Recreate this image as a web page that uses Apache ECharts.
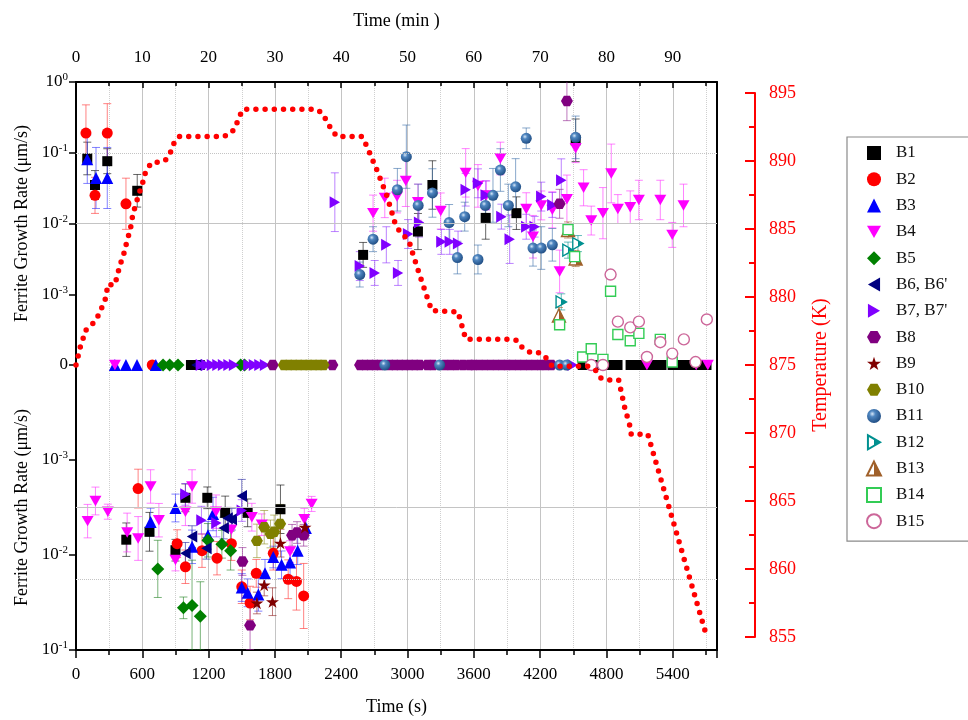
<!DOCTYPE html>
<html>
<head>
<meta charset="utf-8">
<script src="https://cdn.jsdelivr.net/npm/echarts@6/dist/echarts.min.js"></script>
<style>
  html, body { margin: 0; padding: 0; background: #fff; }
  #chart { width: 968px; height: 720px; }
</style>
</head>
<body>
<div id="chart"></div>
<script>
// ---- data -------------------------------------------------------------
// Time axis extent (s)
const TIME_MAX_S = 5800;
// Temperature tick labels (K)
const TEMP_TICKS = [855, 860, 865, 870, 875, 880, 885, 890, 895];
// Furnace temperature profile: [time (s), temperature (K)]
const TEMP_PROFILE = [
  [0, 875], [18, 875.6], [36, 876.25], [63, 876.9], [81, 877.5], [136, 877.9], [181, 878.3],
  [217, 878.9], [253, 879.6], [277, 880.1], [283, 880.9], [353, 880.9], [373, 881.6],
  [416, 882.8], [446, 883.5], [461, 884.2], [488, 884.8], [515, 886.1], [570, 887.6],
  [597, 888.2], [633, 889.3], [687, 889.9], [769, 889.9], [814, 890.1], [859, 890.7],
  [886, 891.3], [931, 891.8], [1338, 891.8], [1410, 892.1], [1447, 892.6], [1474, 893.2],
  [1510, 893.8], [2170, 893.8], [2233, 893.5], [2269, 892.9], [2306, 892.4], [2360, 891.8],
  [2586, 891.8], [2631, 891.1], [2724, 889.3], [2815, 887.4], [2884, 885.5], [2923, 884.9],
  [3014, 884.1], [3035, 883.5], [3110, 881.6], [3189, 879.7], [3219, 879.0], [3456, 878.9],
  [3502, 877.6], [3526, 876.9], [3930, 876.9], [3990, 876.8], [4045, 876.2], [4120, 875.9],
  [4195, 875.9], [4256, 875.5], [4310, 874.9], [4641, 874.9], [4702, 874.6], [4753, 874.0],
  [4828, 873.9], [4910, 873.9], [4964, 871.9], [5009, 870.6], [5024, 869.9], [5174, 869.9],
  [5199, 869.2], [5708, 855.0]
];

// Ferrite growth rate per boundary: [time (s), rate (um/s), error factor]
// rate > 0: growth, rate < 0: shrinkage, rate = 0: no movement
const B1 = [
  [102, 0.083, 1.7], [172, 0.035, 1.6], [283, 0.076, 1.5], [554, 0.029, 1.7],
  [2598, 0.0036, 1.5], [3094, 0.0077, 1.8], [3225, 0.035, 2.2], [3707, 0.012, 2.0],
  [3985, 0.014, 1.7], [4521, 0.15, 2.0],
  [455, -0.0069, 1.5], [665, -0.0057, 1.6], [900, -0.0089, 1.3], [990, -0.0025, 1.4],
  [1188, -0.0025, 1.3], [1350, -0.0036, 1.5], [1553, -0.0036, 1.4], [1850, -0.0033, 1.8],
  [1040, 0], [1085, 0], [1120, 0], [4585, 0], [4670, 0], [4755, 0], [4820, 0], [4900, 0],
  [5018, 0], [5100, 0], [5180, 0], [5260, 0], [5298, 0], [5398, 0], [5480, 0], [5560, 0],
  [5640, 0], [5705, 0]
];
const B2 = [
  [90, 0.19, 2.5], [283, 0.19, 2.6], [172, 0.025, 1.8], [452, 0.019, 2.3],
  [562, -0.002, 1.6], [915, -0.0076, 1.4], [990, -0.0133, 1.5], [1140, -0.009, 1.5],
  [1276, -0.0108, 1.5], [1406, -0.0076, 1.5], [1500, -0.0216, 1.5], [1575, -0.032, 1.5],
  [1631, -0.0156, 1.4], [1785, -0.0096, 1.5], [1920, -0.018, 1.6], [1995, -0.019, 2.0],
  [2060, -0.027, 2.2],
  [690, 0]
];
const B3 = [
  [102, 0.081, 2.2], [181, 0.044, 2.7], [283, 0.044, 2.7],
  [675, -0.0045, 1.4], [900, -0.0032, 1.4], [1050, -0.0082, 1.5], [1194, -0.0062, 1.4],
  [1240, -0.0037, 1.5], [1500, -0.022, 1.4], [1553, -0.025, 1.4], [1650, -0.026, 1.5],
  [1710, -0.0156, 1.4], [1785, -0.0105, 1.3], [1860, -0.0127, 1.4], [1937, -0.012, 1.4],
  [2006, -0.009, 1.4], [2080, -0.0052, 1.3],
  [352, 0], [452, 0], [552, 0], [722, 0]
];
const B4 = [
  [2688, 0.014, 1.8], [2794, 0.023, 1.9], [2905, 0.024, 1.7], [2984, 0.040, 2.3],
  [3094, 0.020, 1.8], [3300, 0.015, 1.8], [3526, 0.052, 2.2], [3637, 0.034, 2.0],
  [3713, 0.025, 1.6], [3840, 0.083, 1.7], [4074, 0.016, 1.7], [4135, 0.0065, 2.0],
  [4210, 0.018, 1.6], [4310, 0.0156, 1.8], [4376, 0.0021, 2.0], [4442, 0.022, 2.2],
  [4521, 0.116, 1.6], [4593, 0.032, 1.8], [4662, 0.011, 1.6], [4768, 0.014, 2.3],
  [4843, 0.051, 2.6], [4903, 0.016, 1.6], [5015, 0.017, 1.7], [5093, 0.0215, 1.9],
  [5287, 0.0215, 1.9], [5395, 0.0069, 1.5], [5497, 0.018, 2.0],
  [105, -0.0044, 1.5], [176, -0.0027, 1.4], [288, -0.0035, 1.2], [463, -0.0058, 1.6],
  [562, -0.0067, 1.7], [675, -0.0019, 1.5], [750, -0.0043, 1.5], [900, -0.0113, 1.3],
  [990, -0.0035, 1.4], [1050, -0.0019, 1.5], [1267, -0.0035, 1.5], [1406, -0.0054, 1.3],
  [1591, -0.004, 1.4], [1681, -0.0048, 1.3], [1937, -0.0092, 1.3], [2066, -0.0042, 1.3],
  [2132, -0.0029, 1.2],
  [352, 0], [5166, 0], [5612, 0], [5717, 0]
];
const B5 = [
  [740, -0.014, 2.0], [972, -0.036, 1.3], [1050, -0.034, 3.0], [1125, -0.044, 2.3],
  [1194, -0.007, 1.5], [1320, -0.0077, 1.4], [1399, -0.009, 1.6],
  [788, 0], [848, 0], [923, 0], [1490, 0], [1525, 0]
];
const B6 = [
  [990, -0.0096, 1.3], [1050, -0.0064, 1.3], [1180, -0.0085, 1.3], [1336, -0.0052, 1.3],
  [1372, -0.0041, 1.3], [1410, -0.0042, 1.3], [1500, -0.0024, 1.5],
  [1090, 0]
];
const B7 = [
  [2342, 0.020, 2.6], [2568, 0.0025, 1.6], [2703, 0.002, 1.5], [2808, 0.005, 1.8],
  [2914, 0.002, 1.5], [3005, 0.0071, 1.6], [3104, 0.0103, 1.6], [3306, 0.0055, 1.5],
  [3382, 0.0055, 1.5], [3457, 0.0052, 1.5], [3526, 0.030, 1.7], [3637, 0.037, 1.6],
  [3707, 0.025, 1.6], [3849, 0.0125, 1.5], [3924, 0.006, 2.2], [4074, 0.009, 1.5],
  [4150, 0.009, 1.4], [4210, 0.024, 1.6], [4310, 0.0183, 1.5], [4391, 0.041, 2.0],
  [990, -0.0023, 1.3], [1135, -0.0043, 1.4], [1270, -0.0046, 1.4], [1500, -0.0034, 1.3],
  [1130, 0], [1180, 0], [1230, 0], [1280, 0], [1330, 0], [1380, 0], [1430, 0], [1560, 0],
  [1610, 0], [1660, 0], [1710, 0], [4494, 0]
];
const B8 = [
  [4376, 0.019, 1.6], [4442, 0.54, 1.9],
  [1506, -0.0117, 1.4], [1575, -0.055, 1.8], [1955, -0.0062, 1.3], [2000, -0.0058, 1.3],
  [2060, -0.0062, 1.3],
  [1780, 0], [2320, 0], [2570, 0], [2615, 0], [2660, 0], [2705, 0], [2750, 0], [2840, 0],
  [2885, 0], [2930, 0], [2975, 0], [3020, 0], [3065, 0], [3110, 0], [3180, 0], [3230, 0],
  [3340, 0], [3390, 0], [3440, 0], [3500, 0], [3560, 0], [3600, 0], [3650, 0], [3700, 0],
  [3750, 0], [3800, 0], [3850, 0], [3900, 0], [3950, 0], [4000, 0], [4050, 0], [4100, 0],
  [4150, 0], [4200, 0], [4250, 0], [4300, 0]
];
const B9 = [
  [1637, -0.032, 1.3], [1703, -0.0207, 1.3], [1778, -0.031, 1.4], [1850, -0.0075, 1.4],
  [2072, -0.0051, 1.3]
];
const B10 = [
  [1637, -0.0071, 1.5], [1703, -0.0051, 1.5], [1760, -0.006, 1.4], [1793, -0.0057, 1.5],
  [1847, -0.0047, 1.6],
  [1880, 0], [1925, 0], [1970, 0], [2015, 0], [2060, 0], [2105, 0], [2150, 0], [2195, 0],
  [2240, 0]
];
const B11 = [
  [2568, 0.0019, 1.5], [2688, 0.006, 1.5], [2908, 0.030, 2.0], [2989, 0.088, 2.8],
  [3096, 0.018, 2.0], [3225, 0.027, 2.2], [3376, 0.0103, 1.8], [3451, 0.0033, 1.7],
  [3517, 0.0125, 1.6], [3637, 0.0031, 1.6], [3704, 0.018, 1.6], [3773, 0.025, 2.4],
  [3840, 0.057, 2.0], [3912, 0.018, 2.0], [3978, 0.033, 2.5], [4074, 0.16, 1.4],
  [4135, 0.0045, 1.8], [4210, 0.0045, 2.0], [4310, 0.005, 1.7], [4521, 0.165, 2.0],
  [2794, 0], [3290, 0], [4376, 0], [4439, 0]
];
const B12 = [[4391, 0.00078, 1.3], [4452, 0.0042, 1.3], [4542, 0.0052, 1.3]];
const B13 = [[4370, 0.0005, 1.3], [4452, 0.0081, 1.3], [4521, 0.0032, 1.3]];
const B14 = [
  [4376, 0.00037, 1.1], [4452, 0.0082, 1.1], [4512, 0.0034, 1.1], [4584, 0.00013, 1.05],
  [4662, 0.00017, 1.05], [4768, 0.00012, 1.05], [4837, 0.0011, 1.1], [4903, 0.00027, 1.1],
  [5015, 0.00022, 1.1], [5093, 0.00028, 1.1], [5287, 0.00023, 1.1], [5395, 0.00011, 1.05]
];
const B15 = [
  [4837, 0.0019, 1.1], [4903, 0.00041, 1.1], [5015, 0.00034, 1.1], [5093, 0.00041, 1.1],
  [5166, 0.00013, 1.05], [5287, 0.00021, 1.1], [5395, 0.000145, 1.05], [5500, 0.00023, 1.1],
  [5606, 0.00011, 1.05], [5708, 0.00044, 1.1],
  [4662, 0], [4768, 0]
];

const BOUNDARIES = [
  ['B1', B1], ['B2', B2], ['B3', B3], ['B4', B4], ['B5', B5], ['B6, B6\'', B6],
  ['B7, B7\'', B7], ['B8', B8], ['B9', B9], ['B10', B10], ['B11', B11], ['B12', B12],
  ['B13', B13], ['B14', B14], ['B15', B15]
];

// ---- styles ------------------------------------------------------------
const FONT = 'Liberation Serif';
const ZERO_LEVEL = 1e-4;   // the log axes bottom out here; drawn as "0"

function halfFill(color) {
  return {
    type: 'linear', x: 0, y: 0, x2: 1, y2: 0,
    colorStops: [
      { offset: 0, color: '#ffffff' }, { offset: 0.5, color: '#ffffff' },
      { offset: 0.5, color: color }, { offset: 1, color: color }
    ]
  };
}
const SPHERE = {
  type: 'radial', x: 0.38, y: 0.35, r: 0.7,
  colorStops: [
    { offset: 0, color: '#d8e8f8' }, { offset: 0.3, color: '#4f86c0' },
    { offset: 1, color: '#1d4a80' }
  ]
};
const P_DOWN = 'path://M0,0L12,0L6,10.4Z';
const P_LEFT = 'path://M10.4,0L10.4,12L0,6Z';
const P_RIGHT = 'path://M0,0L0,12L10.4,6Z';
const P_HEX = 'path://M3,0L9,0L12,5.2L9,10.4L3,10.4L0,5.2Z';
const P_STAR = 'path://M50,0L61.8,36.2L100,36.2L69.1,58.8L80.9,95.1L50,72.4L19.1,95.1L30.9,58.8L0,36.2L38.2,36.2Z';

const STYLE = {
  'B1': { symbol: 'rect', size: 10, color: '#000000', bar: '#000000' },
  'B2': { symbol: 'circle', size: 11, color: '#ff0000', bar: '#ff3030' },
  'B3': { symbol: 'triangle', size: 12, color: '#0000ff', bar: '#3030ff' },
  'B4': { symbol: P_DOWN, size: 12, color: '#ff00ff', bar: '#ff30ff' },
  'B5': { symbol: 'diamond', size: 13, color: '#008000', bar: '#208020' },
  'B6, B6\'': { symbol: P_LEFT, size: 12, color: '#000080', bar: '#2020a0' },
  'B7, B7\'': { symbol: P_RIGHT, size: 12, color: '#8000ff', bar: '#9030ff' },
  'B8': { symbol: P_HEX, size: 12, color: '#800080', bar: '#902090' },
  'B9': { symbol: P_STAR, size: 13, color: '#800000', bar: '#902020' },
  'B10': { symbol: P_HEX, size: 12, color: '#808000', bar: '#909020' },
  'B11': { symbol: 'circle', size: 11, color: SPHERE, bar: '#3a6ea8' },
  'B12': { symbol: P_RIGHT, size: 12, color: halfFill('#009090'), border: '#009090', bar: '#009090' },
  'B13': { symbol: 'triangle', size: 13, color: halfFill('#a0602a'), border: '#a0602a', bar: '#a0602a' },
  'B14': { symbol: 'rect', size: 10, color: '#ffffff', border: '#33cc55', bar: '#33cc55' },
  'B15': { symbol: 'circle', size: 11, color: '#ffffff', border: '#cc6699', bar: '#cc6699' }
};

// ---- series construction ------------------------------------------------
function errorBarSeries(name, points, xIdx, yIdx, color) {
  return {
    type: 'custom', name: name + ' err', xAxisIndex: xIdx, yAxisIndex: yIdx,
    clip: true, z: 2, silent: true,
    data: points,
    renderItem: function (params, api) {
      const x = api.value(0);
      const a = api.coord([x, api.value(2)]);
      const b = api.coord([x, api.value(1)]);
      const w = 4;
      const st = { stroke: color, lineWidth: 1, opacity: 0.6 };
      return {
        type: 'group', children: [
          { type: 'line', shape: { x1: a[0], y1: a[1], x2: b[0], y2: b[1] }, style: st },
          { type: 'line', shape: { x1: a[0] - w, y1: a[1], x2: a[0] + w, y2: a[1] }, style: st },
          { type: 'line', shape: { x1: b[0] - w, y1: b[1], x2: b[0] + w, y2: b[1] }, style: st }
        ]
      };
    }
  };
}

function markerSeries(name, pts, xIdx, yIdx, st) {
  return {
    type: 'scatter', name: name, xAxisIndex: xIdx, yAxisIndex: yIdx,
    data: pts, symbol: st.symbol, symbolSize: st.size, symbolKeepAspect: true,
    clip: false, z: 3,
    itemStyle: {
      color: st.color, opacity: 1,
      borderColor: st.border || 'rgba(0,0,0,0)', borderWidth: st.border ? 1.4 : 0
    },
    emphasis: { disabled: true }
  };
}

const series = [];
BOUNDARIES.forEach(function (entry) {
  const name = entry[0], rows = entry[1], st = STYLE[name];
  const up = [], down = [], upErr = [], downErr = [];
  rows.forEach(function (r) {
    const t = r[0], v = r[1], f = r[2];
    if (v > 0) {
      up.push([t, v]);
      upErr.push([t, Math.max(v / f, ZERO_LEVEL), v * f]);
    } else if (v < 0) {
      const m = -v;
      down.push([t, m]);
      downErr.push([t, Math.max(m / f, ZERO_LEVEL), Math.min(m * f, 0.1)]);
    } else {
      up.push([t, ZERO_LEVEL]);
    }
  });
  if (upErr.length) series.push(errorBarSeries(name, upErr, 0, 0, st.bar));
  if (downErr.length) series.push(errorBarSeries(name, downErr, 2, 1, st.bar));
  series.push(markerSeries(name, up, 0, 0, st));
  if (down.length) series.push(markerSeries(name, down, 2, 1, st));
});

// horizontal grid lines (decades) for each half
const GRID_GRAY = '#c4c4c4';
function gridLines(xIdx, yIdx, defs) {
  return {
    type: 'scatter', xAxisIndex: xIdx, yAxisIndex: yIdx, data: [], silent: true, z: 1,
    markLine: {
      silent: true, symbol: 'none', label: { show: false }, animation: false,
      data: defs.map(function (d) {
        return { yAxis: d[0], lineStyle: { color: GRID_GRAY, width: 1, type: d[1] } };
      })
    }
  };
}
series.push(gridLines(0, 0, [[0.1, 'dotted'], [0.01, 'solid'], [0.001, 'dotted'], [ZERO_LEVEL, 'solid']]));
series.push(gridLines(2, 2, [[0.001, 'dotted'], [0.01, 'solid'], [0.1, 'dotted']]));

// furnace temperature
series.push({
  type: 'line', name: 'Temperature', xAxisIndex: 3, yAxisIndex: 3,
  data: TEMP_PROFILE, showSymbol: false, z: 5, silent: true,
  lineStyle: { color: '#ff0000', width: 5.5, type: [0, 9.2], cap: 'round' }
});

// ---- axes ------------------------------------------------------------
const supRich = {
  b: { fontFamily: FONT, fontSize: 17, color: '#000' },
  e: { fontFamily: FONT, fontSize: 11, color: '#000', verticalAlign: 'top', padding: [0, 0, 9, 0] }
};
function decadeLabel(v) {
  const e = Math.round(Math.log10(v));
  if (e === -4) return '{b|0}';
  return '{b|10}{e|' + e + '}';
}
function plainNumber(v) { return String(v); }

const LEFT = 76, WIDTH = 641;
const axisBlack = { show: true, onZero: false, lineStyle: { color: '#000', width: 2 } };

const option = {
  animation: false,
  backgroundColor: '#ffffff',
  grid: [
    { left: LEFT, top: 82, width: WIDTH, height: 283 },
    { left: LEFT, top: 365, width: WIDTH, height: 285 },
    { left: LEFT, top: 93, width: WIDTH, height: 544 }
  ],
  xAxis: [
    { // upper half, seconds (data + vertical grid)
      gridIndex: 0, type: 'value', min: 0, max: TIME_MAX_S, interval: 600,
      axisLine: { show: false, onZero: false }, axisTick: { show: false }, axisLabel: { show: false },
      minorTick: { show: false, splitNumber: 2 },
      splitLine: { show: true, lineStyle: { color: GRID_GRAY, width: 1 } },
      minorSplitLine: { show: true, lineStyle: { color: '#cfcfcf', width: 1, type: 'dotted' } }
    },
    { // top axis in minutes
      gridIndex: 0, type: 'value', position: 'top', min: 0, max: TIME_MAX_S / 60, interval: 10,
      axisLine: axisBlack,
      axisTick: { show: true, inside: true, length: 6, lineStyle: { color: '#000', width: 1.5 } },
      minorTick: { show: true, splitNumber: 2, length: 4, lineStyle: { color: '#000', width: 1.5 } },
      axisLabel: { fontFamily: FONT, fontSize: 17, color: '#000', margin: 16, showMaxLabel: false, formatter: plainNumber },
      splitLine: { show: false },
      name: 'Time (min )', nameLocation: 'middle', nameGap: 52,
      nameTextStyle: { fontFamily: FONT, fontSize: 18, color: '#000' }
    },
    { // bottom axis in seconds
      gridIndex: 1, type: 'value', min: 0, max: TIME_MAX_S, interval: 600,
      axisLine: axisBlack,
      axisTick: { show: true, length: 8, lineStyle: { color: '#000', width: 1.5 } },
      minorTick: { show: true, splitNumber: 2, length: 5, lineStyle: { color: '#000', width: 1.5 } },
      axisLabel: { fontFamily: FONT, fontSize: 17, color: '#000', margin: 16, showMaxLabel: false, formatter: plainNumber },
      splitLine: { show: true, lineStyle: { color: GRID_GRAY, width: 1 } },
      minorSplitLine: { show: true, lineStyle: { color: '#cfcfcf', width: 1, type: 'dotted' } },
      name: 'Time (s)', nameLocation: 'middle', nameGap: 48,
      nameTextStyle: { fontFamily: FONT, fontSize: 18, color: '#000' }
    },
    { gridIndex: 2, type: 'value', min: 0, max: TIME_MAX_S, show: false, axisLine: { onZero: false } }
  ],
  yAxis: [
    { // upper: growth
      gridIndex: 0, type: 'log', logBase: 10, min: ZERO_LEVEL, max: 1,
      axisLine: axisBlack,
      axisTick: { show: true, length: 7, lineStyle: { color: '#000', width: 1.5 } },
      axisLabel: { formatter: decadeLabel, rich: supRich, margin: 8 },
      splitLine: { show: false },
      name: 'Ferrite Growth Rate (\u03bcm/s)', nameLocation: 'middle', nameGap: 40,
      nameTextStyle: { fontFamily: FONT, fontSize: 18, color: '#000' }
    },
    { // lower: shrinkage, magnitude increases downward
      gridIndex: 1, type: 'log', logBase: 10, min: ZERO_LEVEL, max: 0.1, inverse: true,
      axisLine: axisBlack,
      axisTick: { show: true, length: 7, lineStyle: { color: '#000', width: 1.5 } },
      axisLabel: { formatter: decadeLabel, rich: supRich, margin: 8, showMinLabel: false },
      splitLine: { show: false },
      name: 'Ferrite Growth Rate (\u03bcm/s)', nameLocation: 'middle', nameGap: 40,
      nameTextStyle: { fontFamily: FONT, fontSize: 18, color: '#000' }
    },
    { // lower half grid spacing follows the upper decades
      gridIndex: 1, type: 'log', logBase: 10, min: ZERO_LEVEL, max: 1, inverse: true,
      axisLine: { show: false, onZero: false }, axisTick: { show: false }, axisLabel: { show: false },
      splitLine: { show: false }
    },
    { // temperature
      gridIndex: 2, type: 'value', position: 'right', offset: 38,
      min: TEMP_TICKS[0], max: TEMP_TICKS[TEMP_TICKS.length - 1], interval: 5,
      axisLine: { show: true, onZero: false, lineStyle: { color: '#ff0000', width: 2 } },
      axisTick: { show: true, inside: true, length: 10, lineStyle: { color: '#ff0000', width: 2 } },
      minorTick: { show: true, splitNumber: 2, length: 6, lineStyle: { color: '#ff0000', width: 2 } },
      axisLabel: { fontFamily: FONT, fontSize: 18, color: '#ff0000', margin: 14 },
      splitLine: { show: false },
      name: 'Temperature (K)', nameLocation: 'middle', nameRotate: 90, nameGap: 56,
      nameTextStyle: { fontFamily: FONT, fontSize: 20, color: '#ff0000' }
    },
    { // right frame of upper half
      gridIndex: 0, type: 'value', position: 'right', min: 0, max: 1,
      axisLine: axisBlack, axisTick: { show: false }, axisLabel: { show: false }, splitLine: { show: false }
    },
    { // right frame of lower half
      gridIndex: 1, type: 'value', position: 'right', min: 0, max: 1,
      axisLine: axisBlack, axisTick: { show: false }, axisLabel: { show: false }, splitLine: { show: false }
    }
  ],
  legend: {
    data: BOUNDARIES.map(function (b) { return b[0]; }),
    orient: 'vertical', left: 847, top: 137,
    itemWidth: 14, itemHeight: 14, itemGap: 8.3,
    padding: [7, 24, 11, 19],
    borderColor: '#8a8a8a', borderWidth: 1.2,
    selectedMode: false,
    textStyle: { fontFamily: FONT, fontSize: 17, color: '#111', lineHeight: 18, padding: [0, 0, 0, 10] }
  },
  series: series
};

const chart = echarts.init(document.getElementById('chart'), null, { renderer: 'canvas' });
chart.setOption(option);
</script>
</body>
</html>
